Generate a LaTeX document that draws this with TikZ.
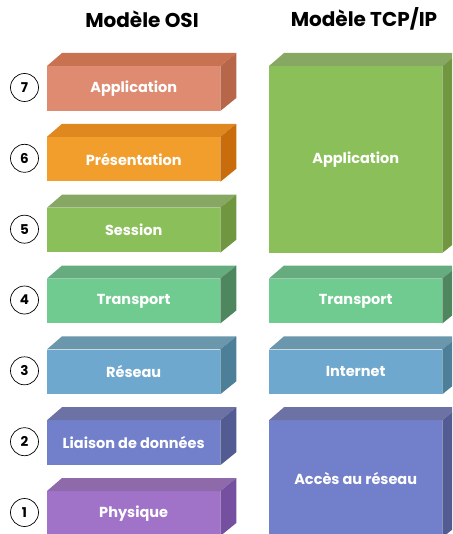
\documentclass[tikz,border=0pt]{standalone}
\usepackage{fontspec}
\setmainfont{Poppins}
\definecolor{aF}{HTML}{DE8B72}\definecolor{aT}{HTML}{C87252}\definecolor{aS}{HTML}{B8664A}
\definecolor{pF}{HTML}{F29E2D}\definecolor{pT}{HTML}{E08820}\definecolor{pS}{HTML}{C86C0C}
\definecolor{sF}{HTML}{8BBF5A}\definecolor{sT}{HTML}{86A862}\definecolor{sS}{HTML}{70963F}
\definecolor{tF}{HTML}{70CB90}\definecolor{tT}{HTML}{67AC7E}\definecolor{tS}{HTML}{4E875E}
\definecolor{rF}{HTML}{6FA8CE}\definecolor{rT}{HTML}{6B97AD}\definecolor{rS}{HTML}{4D7F99}
\definecolor{lF}{HTML}{727FCA}\definecolor{lT}{HTML}{6C72A3}\definecolor{lS}{HTML}{525B92}
\definecolor{yF}{HTML}{A073C9}\definecolor{yT}{HTML}{8E6AAB}\definecolor{yS}{HTML}{7650A0}
\newcommand\mylayer[7]{% name, x, y top, height, colour prefix, text
  \node[layerbox, fill=#5F, minimum height=#4pt, anchor=north west] (#1) at (#2,#3) {#6};
  \fill[#5T] (#1.north west) -- ++(15,-13) -- ([shift={(16,-13)}]#1.north east) -- (#1.north east) -- cycle;
  \fill[#5S] (#1.north east) -- ++(16,-13) -- ([shift={(16,-13)}]#1.south east) -- (#1.south east) -- cycle;
}
\begin{document}
\begin{tikzpicture}[x=1pt,y=-1pt,
  layerbox/.style={rectangle, inner sep=0pt, minimum width=173pt, text=white,
    font=\bfseries\fontsize{14.5}{16}\selectfont},
  numcirc/.style={circle, draw=black, line width=0.7pt, minimum size=28pt, inner sep=0pt,
    font=\bfseries\fontsize{13.5}{15}\selectfont},
  title/.style={font=\bfseries\fontsize{20}{22}\selectfont}]
\path[use as bounding box, clip] (0,0) rectangle (452,534);
\node[title] (tosi) at (142,19) {Modèle OSI};
\node[title] (ttcp) at (364,19) {Modèle TCP/IP};
\mylayer{o7}{47}{66}{44.5}{a}{Application}{}
\mylayer{o6}{47}{136.8}{44.5}{p}{Présentation}{}
\mylayer{o5}{47}{207.7}{44.5}{s}{Session}{}
\mylayer{o4}{47}{278.5}{44.5}{t}{Transport}{}
\mylayer{o3}{47}{349.3}{44.5}{r}{Réseau}{}
\mylayer{o2}{47}{420.2}{44.5}{l}{Liaison de données}{}
\mylayer{o1}{47}{491}{44.5}{y}{Physique}{}
\node[numcirc] (n7) at (24.5,87.5) {7};
\node[numcirc] (n6) at (24.5,158.3) {6};
\node[numcirc] (n5) at (24.5,229.2) {5};
\node[numcirc] (n4) at (24.5,300) {4};
\node[numcirc] (n3) at (24.5,370.8) {3};
\node[numcirc] (n2) at (24.5,441.7) {2};
\node[numcirc] (n1) at (24.5,512.5) {1};
\mylayer{c4}{269}{66}{186.5}{s}{Application}{}
\mylayer{c3}{269}{278.5}{44.5}{t}{Transport}{}
\mylayer{c2}{269}{349.3}{44.5}{r}{Internet}{}
\mylayer{c1}{269}{420.2}{117}{l}{Accès au réseau}{}
\end{tikzpicture}
\end{document}
